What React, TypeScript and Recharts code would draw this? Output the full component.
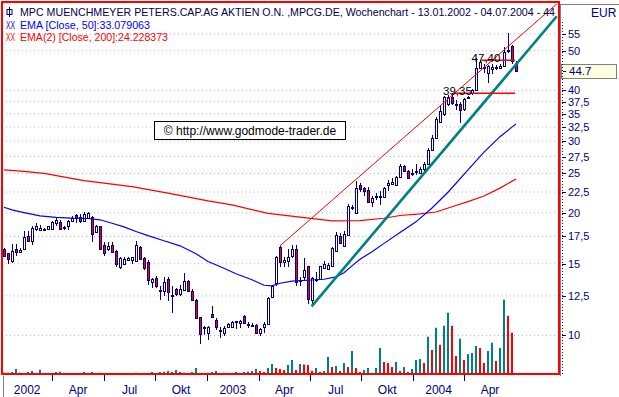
import {
  ComposedChart, Bar, Line, XAxis, YAxis, CartesianGrid, ReferenceLine, Cell,
} from 'recharts'

const NAVY = '#000080'
const RED = '#ff0000'
const TEAL = '#008080'
const FONT = '"Liberation Sans", Arial, sans-serif'

const TITLE = 'MPC MUENCHMEYER PETERS.CAP.AG AKTIEN O.N. ,MPCG.DE, Wochenchart - 13.01.2002 - 04.07.2004 - 44'
const EMA50_LABEL = 'EMA [Close, 50]:33.079063'
const EMA200_LABEL = 'EMA(2) [Close, 200]:24.228373'

// weekly candles, one per week from 13.01.2002
const opens = [
  16.3, 15.93, 15.19, 16.32, 16.07, 16.3, 17.57, 17.08, 18.3, 18.2,
  18.25, 18.24, 18.24, 18.88, 19.01, 18.5, 18.52, 19.15, 19.77, 19.56,
  19.12, 19.48, 19.52, 17.9, 18.59, 16.67, 16.3, 16.67, 16.14, 14.72,
  14.99, 15.3, 15.3, 15.27, 16.45, 15.49, 15.14, 13.5, 13.87, 12.95,
  12.82, 13.75, 12.6, 13.0, 12.65, 12.95, 13.57, 12.82, 12.23, 11.09,
  10.47, 10.14, 11.3, 10.93, 10.3, 10.14, 10.46, 10.46, 10.8, 10.72,
  11.18, 10.68, 10.6, 10.62, 10.14, 10.49, 10.66, 12.46, 13.45, 16.48,
  15.14, 15.27, 15.63, 16.3, 13.6, 13.9, 14.77, 12.23, 13.7, 13.75,
  14.63, 14.55, 14.82, 16.16, 17.57, 16.6, 17.6, 20.7, 19.97, 23.4,
  23.0, 22.8, 21.3, 21.95, 21.9, 21.93, 23.4, 23.5, 23.4, 24.56,
  26.0, 25.4, 25.0, 25.3, 25.0, 25.6, 26.3, 28.5, 30.5, 33.5,
  35.0, 37.0, 38.5, 37.0, 37.0, 35.9, 38.3, 39.3, 40.1, 45.3,
  45.7, 44.0, 45.2, 45.6, 45.4, 46.0, 50.3, 51.5, 46.6,
]
const highs = [
  16.4, 15.95, 16.76, 16.76, 16.38, 18.0, 18.1, 18.52, 18.93, 18.7,
  18.4, 18.6, 19.05, 19.48, 19.2, 18.6, 19.2, 19.6, 19.85, 19.85,
  20.1, 20.1, 19.6, 18.7, 18.6, 16.92, 17.0, 17.0, 16.2, 15.6,
  15.6, 15.6, 15.6, 17.08, 16.6, 15.6, 15.3, 13.85, 14.0, 13.2,
  13.95, 13.9, 13.2, 13.1, 13.3, 14.27, 13.7, 13.0, 12.3, 11.1,
  10.52, 10.53, 11.83, 11.03, 10.46, 10.52, 10.75, 10.82, 10.88, 10.93,
  11.2, 10.78, 10.7, 10.65, 10.4, 10.76, 12.4, 13.3, 15.7, 16.6,
  15.6, 16.3, 16.7, 16.7, 13.9, 15.49, 14.8, 13.9, 14.35, 14.8,
  15.2, 15.1, 16.45, 17.9, 17.8, 18.1, 21.0, 20.9, 24.0, 23.7,
  23.2, 23.1, 22.0, 22.4, 22.6, 23.1, 24.1, 24.3, 24.6, 26.35,
  26.2, 25.5, 25.6, 26.3, 25.9, 26.6, 28.9, 31.0, 34.4, 36.8,
  38.8, 39.0, 39.35, 37.8, 37.5, 38.3, 38.8, 40.3, 47.9, 47.4,
  46.5, 46.2, 46.3, 46.2, 46.3, 51.0, 55.3, 51.8, 47.3,
]
const lows = [
  15.6, 15.0, 15.05, 15.63, 15.98, 16.23, 16.98, 16.72, 18.1, 18.0,
  18.1, 18.2, 18.2, 18.52, 18.2, 18.15, 18.15, 19.1, 18.93, 18.93,
  19.0, 19.4, 17.0, 17.8, 16.2, 15.71, 16.15, 15.95, 14.7, 14.6,
  14.9, 15.2, 15.0, 15.2, 15.3, 14.5, 13.3, 13.07, 13.1, 12.2,
  12.51, 12.12, 11.35, 12.5, 12.5, 12.9, 12.8, 12.12, 11.0, 9.54,
  10.0, 9.72, 11.05, 10.33, 9.85, 9.98, 10.4, 10.4, 10.37, 10.42,
  10.7, 10.42, 10.52, 10.1, 9.94, 10.14, 10.6, 12.4, 13.25, 14.72,
  14.75, 14.75, 15.5, 13.25, 13.25, 13.7, 11.96, 11.83, 13.55, 13.7,
  14.6, 14.5, 14.75, 16.0, 16.8, 16.5, 17.5, 20.3, 19.9, 22.5,
  22.0, 21.2, 20.7, 21.5, 20.9, 21.8, 22.6, 23.4, 23.3, 24.4,
  25.2, 24.3, 24.6, 24.8, 24.9, 25.4, 26.2, 28.3, 30.3, 33.2,
  34.5, 36.5, 36.8, 35.8, 33.2, 35.5, 38.0, 39.0, 39.8, 45.0,
  44.2, 41.6, 43.8, 44.8, 45.2, 45.8, 49.3, 46.5, 44.3,
]
const closes = [
  15.7, 15.4, 16.14, 16.07, 16.25, 17.43, 17.08, 18.35, 18.59, 18.35,
  18.3, 18.59, 19.01, 19.23, 18.3, 18.35, 19.15, 19.48, 19.42, 19.05,
  19.85, 19.97, 17.73, 18.59, 16.3, 15.93, 16.6, 16.02, 14.97, 15.49,
  15.4, 15.5, 15.55, 16.7, 15.42, 14.65, 13.7, 13.75, 13.19, 12.85,
  13.54, 12.75, 12.55, 12.65, 13.0, 13.57, 12.82, 12.23, 11.03, 10.1,
  10.42, 10.49, 11.07, 10.49, 10.27, 10.43, 10.68, 10.76, 10.85, 10.88,
  10.72, 10.63, 10.63, 10.14, 10.37, 10.66, 12.35, 13.25, 15.62, 15.14,
  15.35, 15.58, 16.3, 13.5, 13.7, 14.5, 12.28, 13.83, 13.75, 14.77,
  15.0, 14.9, 16.38, 17.67, 16.86, 17.76, 20.8, 20.6, 22.98, 22.9,
  22.6, 21.3, 21.7, 22.05, 22.0, 23.0, 23.7, 23.8, 24.5, 26.07,
  25.3, 24.4, 25.1, 25.4, 25.7, 26.4, 28.6, 30.6, 34.0, 35.5,
  38.5, 38.6, 37.2, 37.1, 35.7, 38.0, 38.5, 40.1, 45.3, 47.0,
  45.5, 45.9, 45.6, 45.5, 46.0, 49.8, 49.9, 47.3, 44.7,
]
// weekly volume, thousand shares
const volumes = [
  3.5, 3.2, 5.4, 13.5, 3.5, 2.7, 5.4, 8.1, 2.7, 11.6,
  1.4, 2.7, 1.9, 5.4, 6.2, 2.7, 2.4, 2.2, 1.9, 1.4,
  5.4, 2.7, 5.4, 2.7, 3.2, 2.7, 2.4, 2.2, 1.9, 1.4,
  1.1, 0.8, 2.7, 3.2, 1.4, 2.7, 2.2, 5.4, 2.7, 5.4,
  5.9, 8.1, 5.4, 10.8, 5.4, 3.5, 2.7, 5.4, 16.2, 1.4,
  2.7, 3.5, 5.4, 8.1, 2.7, 3.2, 1.6, 1.4, 5.4, 2.7,
  5.4, 6.2, 8.1, 13.5, 8.1, 5.4, 16.2, 27, 16.2, 13.5,
  10.8, 24.3, 37.8, 10.8, 27, 25.6, 24.3, 8.9, 16.2, 5.4,
  8.1, 45.9, 18.9, 21.6, 8.1, 29.7, 18.9, 62.1, 16.2, 5.4,
  10.8, 16.2, 2.7, 16.2, 70.2, 32.4, 29.7, 18.9, 32.4, 8.1,
  18.9, 5.4, 13.5, 37.8, 40.5, 29.7, 99.9, 64.8, 124.2, 78.3,
  129.6, 164.7, 129.6, 48.6, 94.5, 37.8, 54, 56.7, 75.6, 70.2,
  29.7, 62.1, 83.7, 35.1, 70.2, 199.8, 156.6, 110.7, 2.7,
]

const ema50Weeks = [0, 2, 5, 9, 13, 17, 21, 24, 27, 30, 33, 36, 40, 44, 48, 51, 54, 58, 62, 65, 67, 69, 72, 76, 80, 83, 85, 87, 89, 92, 95, 99, 103, 107, 111, 116, 120, 124, 128]
const ema50Values = [20.64, 20.34, 20.03, 19.66, 19.5, 19.41, 19.37, 19.23, 18.86, 18.47, 18.0, 17.59, 17.08, 16.6, 15.87, 15.19, 14.77, 14.17, 13.7, 13.28, 13.24, 13.43, 13.6, 13.66, 13.74, 13.93, 14.25, 14.82, 15.38, 16.05, 16.83, 17.9, 19.01, 20.56, 22.47, 25.5, 28.2, 30.77, 33.08]
const ema200Weeks = [0, 5, 10, 20, 32, 41, 51, 57, 66, 74, 82, 89, 95, 99, 104, 108, 112, 116, 120, 124, 128]
const ema200Values = [25.5, 25.3, 25.0, 24.01, 23.2, 22.36, 21.4, 20.93, 19.94, 19.52, 19.12, 19.14, 19.4, 19.7, 19.88, 20.1, 20.7, 21.31, 22.0, 23.0, 24.23]

// trend lines [week, price]
const channelTop = [[69, 16.6], [138.2, 65.2]]
const supportLine = [[76.9, 11.78], [138.2, 60.8]]
const levels = [
  { label: '39,35', value: 39.35, from: 112.25, to: 127.75 },
  { label: '47,40', value: 47.4, from: 119.4, to: 127.75 },
]

const quarterStarts = [-0.5, 12.1, 25, 37.8, 50.7, 63.7, 76.5, 89.35, 102.25, 115.05]
const quarterLabels = ['2002', 'Apr', 'Jul', 'Okt', '2003', 'Apr', 'Jul', 'Okt', '2004', 'Apr']
const priceTicks = [10, 12.5, 15, 17.5, 20, 22.5, 25, 27.5, 30, 32.5, 35, 37.5, 40, 50, 55]

const rows = closes.map((c, i) => {
  const k50 = ema50Weeks.indexOf(i)
  const k200 = ema200Weeks.indexOf(i)
  return {
    i,
    range: [lows[i], highs[i]],
    o: opens[i], h: highs[i], l: lows[i], c,
    vol: volumes[i],
    volUp: i > 0 && volumes[i] > volumes[i - 1],
    ema50: k50 >= 0 ? ema50Values[k50] : null,
    ema200: k200 >= 0 ? ema200Values[k200] : null,
  }
})
const lastClose = closes[closes.length - 1]
const PX_PER_WEEK = 4

function Candle(props: any) {
  const { x, y, width, height, payload } = props
  if (!payload || !isFinite(y) || !isFinite(height)) return null
  const cx = Math.round(x + width / 2)
  const lh = Math.log(payload.h)
  const ll = Math.log(payload.l)
  const toY = (v: number) => y + ((lh - Math.log(v)) / (lh - ll)) * height
  const yo = toY(payload.o)
  const yc = toY(payload.c)
  const top = Math.round(Math.min(yo, yc))
  const bot = Math.round(Math.max(yo, yc))
  const down = payload.c < payload.o
  return (
    <g>
      <line x1={cx + 0.5} x2={cx + 0.5} y1={Math.round(y)} y2={Math.round(y + height)} stroke={NAVY} />
      <rect x={cx - 0.5} y={top + 0.5} width={2} height={Math.max(bot - top, 1)}
        fill={down ? RED : '#ffffff'} stroke={NAVY} />
    </g>
  )
}

function PriceTick(props: any) {
  const { x, y, payload } = props
  const yy = Math.round(y) + 0.5
  return (
    <g>
      <line x1={x + 3} x2={x + 7} y1={yy} y2={yy} stroke={NAVY} />
      <text x={x + 9} y={y + 4} fontSize={11} fill={NAVY} fontFamily={FONT}>
        {String(payload.value).replace('.', ',')}
      </text>
    </g>
  )
}

function QuarterTick(props: any) {
  const { x, y, index } = props
  const cur = quarterStarts[index]
  const next = index + 1 < quarterStarts.length ? quarterStarts[index + 1] : cur + 12.9
  const mid = x + ((next - cur) / 2) * PX_PER_WEEK
  const tx = Math.round(x) + 0.5
  return (
    <g>
      {index > 0 && <line x1={tx} x2={tx} y1={y + 1} y2={y + 7} stroke={NAVY} />}
      <text x={mid} y={y + 20} textAnchor="middle" fontSize={12} fill={NAVY} fontFamily={FONT}>
        {quarterLabels[index]}
      </text>
    </g>
  )
}

export default function App() {
  return (
    <div style={{ position: 'absolute', left: 0, top: 0, width: 619, height: 397, background: '#fff' }}>
      <ComposedChart width={619} height={397} data={rows} margin={{ top: 2, right: 0, bottom: 0, left: 2 }}>
        <CartesianGrid xAxisId="p" yAxisId="p" vertical={false} stroke="#b4b4b4" strokeDasharray="1 3" />
        <XAxis xAxisId="p" type="number" dataKey="i" domain={[-0.5, 138.75]} allowDataOverflow
          ticks={quarterStarts} interval={0} tick={<QuarterTick />} tickLine={false} axisLine={false}
          tickSize={0} tickMargin={0} height={23} />
        <XAxis xAxisId="v" type="number" dataKey="i" domain={[-0.5, 138.75]} allowDataOverflow hide />
        <YAxis yAxisId="p" orientation="right" scale="log" domain={[8.04, 65.9]} allowDataOverflow
          ticks={priceTicks} interval={0} tick={<PriceTick />} tickLine={false} axisLine={false}
          tickSize={0} tickMargin={0} width={60} />
        <YAxis yAxisId="v" domain={[0, 1000]} hide />

        <Bar xAxisId="v" yAxisId="v" dataKey="vol" barSize={2} isAnimationActive={false}>
          {rows.map((r) => <Cell key={r.i} fill={r.volUp ? TEAL : RED} />)}
        </Bar>
        <Line xAxisId="p" yAxisId="p" dataKey="ema200" stroke={RED} strokeWidth={1.2} dot={false}
          connectNulls isAnimationActive={false} />
        <Line xAxisId="p" yAxisId="p" dataKey="ema50" stroke="#0000ff" strokeWidth={1.2} dot={false}
          connectNulls isAnimationActive={false} />
        <Bar xAxisId="p" yAxisId="p" dataKey="range" barSize={3} shape={(p: any) => <Candle {...p} />}
          isAnimationActive={false} />

        <ReferenceLine xAxisId="p" yAxisId="p" stroke={RED} strokeWidth={1}
          segment={[{ x: channelTop[0][0], y: channelTop[0][1] }, { x: channelTop[1][0], y: channelTop[1][1] }]} />
        <ReferenceLine xAxisId="p" yAxisId="p" stroke={TEAL} strokeWidth={2.6}
          segment={[{ x: supportLine[0][0], y: supportLine[0][1] }, { x: supportLine[1][0], y: supportLine[1][1] }]} />
        {levels.map((lv) => (
          <ReferenceLine key={lv.label} xAxisId="p" yAxisId="p" stroke={RED} strokeWidth={1.5}
            segment={[{ x: lv.from, y: lv.value }, { x: lv.to, y: lv.value }]}
            label={(p: any) => (
              <text x={p.viewBox.x - 10} y={p.viewBox.y + 2} fontSize={11.5} fill="#000" fontFamily={FONT}>
                {lv.label}
              </text>
            )} />
        ))}
        <ReferenceLine xAxisId="p" yAxisId="p" y={lastClose} stroke="none"
          label={(p: any) => (
            <g>
              <rect x={p.viewBox.x + p.viewBox.width + 2.5} y={Math.round(p.viewBox.y) - 6.5} width={55} height={14}
                fill="#ffffe1" stroke="#808080" />
              <line x1={p.viewBox.x + p.viewBox.width + 4} x2={p.viewBox.x + p.viewBox.width + 7}
                y1={Math.round(p.viewBox.y) + 0.5} y2={Math.round(p.viewBox.y) + 0.5} stroke={NAVY} />
              <text x={p.viewBox.x + p.viewBox.width + 10} y={p.viewBox.y + 4.5} fontSize={11.5} fill={NAVY} fontFamily={FONT}>
                {lastClose.toFixed(1)}
              </text>
            </g>
          )} />
      </ComposedChart>

      <svg width={619} height={397} style={{ position: 'absolute', left: 0, top: 0, pointerEvents: 'none' }}>
        <line x1={560.5} y1={4} x2={560.5} y2={376} stroke="#808080" />
        <line x1={560} y1={4.5} x2={619} y2={4.5} stroke="#808080" />
        <line x1={562.5} y1={22} x2={562.5} y2={374} stroke={NAVY} strokeDasharray="1 2" />
        <line x1={3.5} y1={376} x2={3.5} y2={397} stroke="#808080" />
        <rect x={2} y={2} width={557} height={372} fill="none" stroke={RED} strokeWidth={2} />
        <text x={591} y={17} fontSize={12} fill={NAVY} fontFamily={FONT}>EUR</text>

        <g fontFamily={FONT}>
          <rect x={7} y={9.5} width={5} height={5} fill="none" stroke={NAVY} />
          <line x1={9.5} x2={9.5} y1={7} y2={17} stroke={NAVY} />
          <text x={20} y={16} fontSize={10.8} fill="#000050" textLength={535} lengthAdjust="spacingAndGlyphs">{TITLE}</text>
          <text x={6} y={28.5} fontSize={11} fill="#0000ff" textLength={9} lengthAdjust="spacingAndGlyphs">XX</text>
          <text x={20} y={28.5} fontSize={11} fill="#0000ff" textLength={130} lengthAdjust="spacingAndGlyphs">{EMA50_LABEL}</text>
          <text x={6} y={40.7} fontSize={11} fill={RED} textLength={9} lengthAdjust="spacingAndGlyphs">XX</text>
          <text x={20} y={40.7} fontSize={11} fill={RED} textLength={148} lengthAdjust="spacingAndGlyphs">{EMA200_LABEL}</text>
          <rect x={154.5} y={121.5} width={191} height={18} fill="#fff" stroke="#000" />
          <text x={250} y={135} textAnchor="middle" fontSize={12} fill="#000">© http://www.godmode-trader.de</text>
        </g>
      </svg>
    </div>
  )
}
